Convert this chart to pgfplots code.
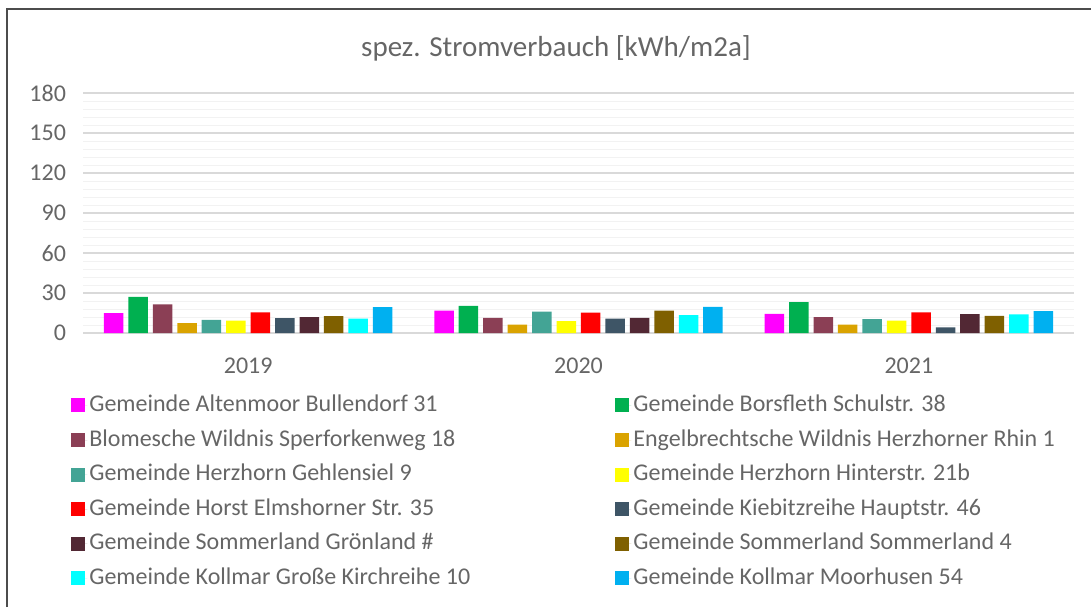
\documentclass[border=0pt]{standalone}
\usepackage{pgfplots}
\pgfplotsset{compat=1.18}
\usepackage{pgfplotstable}
\usepackage{fontspec}
\setmainfont{Carlito}
\definecolor{txt}{HTML}{666666}
\definecolor{c1}{HTML}{FF00FF}
\definecolor{c2}{HTML}{00B050}
\definecolor{c3}{HTML}{8B3F55}
\definecolor{c4}{HTML}{DAA300}
\definecolor{c5}{HTML}{43A495}
\definecolor{c6}{HTML}{FFFF00}
\definecolor{c7}{HTML}{FF0000}
\definecolor{c8}{HTML}{3E5566}
\definecolor{c9}{HTML}{522834}
\definecolor{c10}{HTML}{7F6000}
\definecolor{c11}{HTML}{00FFFF}
\definecolor{c12}{HTML}{00B0F0}
\pgfplotstableread{
x s1 s2 s3 s4 s5 s6 s7 s8 s9 s10 s11 s12
0 15.0 27.1 21.4 7.5 9.9 9.2 15.4 11.2 12.0 12.7 10.7 19.4
1 16.7 20.4 11.4 6.2 16.1 9.0 15.2 10.7 11.4 16.7 13.4 19.6
2 14.4 23.1 12.0 6.2 10.5 9.2 15.4 4.2 14.2 12.9 13.9 16.4
}\datatable
\newcommand{\lw}[1]{\makebox[262pt][l]{#1}}
\begin{document}
\begin{tikzpicture}
\useasboundingbox (0,0) rectangle (545.5pt,303.5pt);
\draw[color=black!70, line width=1pt] (3.5pt,0) -- (3.5pt,299pt) -- (546pt,299pt);
\node[text=txt, font=\fontsize{14.5}{17}\selectfont] at (278pt,279.5pt) {spez. Stromverbauch [kWh/m2a]};
\begin{axis}[
  at={(41.5pt,137pt)}, anchor=south west,
  scale only axis, width=495.5pt, height=120pt,
  ybar=2.475pt, bar width=9.75pt,
  xmin=-0.5, xmax=2.5, ymin=0, ymax=180,
  xtick={0,1,2}, xticklabels={2019,2020,2021},
  ytick={0,30,...,180}, minor y tick num=4,
  ymajorgrids, yminorgrids,
  major grid style={draw=black!15, line width=0.6pt},
  minor grid style={draw=black!5, line width=0.5pt},
  major tick length=0pt, minor tick length=0pt,
  axis line style={draw=none},
  /pgf/number format/assume math mode=true,
  tick label style={text=txt, font=\fontsize{12}{14}\selectfont},
  yticklabel style={xshift=-5pt},
  xticklabel style={yshift=-9pt},
  legend columns=2,
  legend cell align=left,
  legend style={at={(0,0)}, anchor=north west, xshift=-6pt, yshift=-29pt,
    draw=none, fill=none, inner sep=0pt, row sep=3.3pt,
    font=\fontsize{12}{14}\selectfont, text=txt,
    nodes={inner sep=1pt, text height=9pt, text depth=3pt}},
  legend image code/.code={\fill[#1,draw=none] (0pt,-3.5pt) rectangle (7pt,3.5pt); \path (0pt,0pt) -- (8pt,0pt);},
]
\addplot[fill=c1, draw=none] table[x=x,y=s1]{\datatable};
\addplot[fill=c2, draw=none] table[x=x,y=s2]{\datatable};
\addplot[fill=c3, draw=none] table[x=x,y=s3]{\datatable};
\addplot[fill=c4, draw=none] table[x=x,y=s4]{\datatable};
\addplot[fill=c5, draw=none] table[x=x,y=s5]{\datatable};
\addplot[fill=c6, draw=none] table[x=x,y=s6]{\datatable};
\addplot[fill=c7, draw=none] table[x=x,y=s7]{\datatable};
\addplot[fill=c8, draw=none] table[x=x,y=s8]{\datatable};
\addplot[fill=c9, draw=none] table[x=x,y=s9]{\datatable};
\addplot[fill=c10, draw=none] table[x=x,y=s10]{\datatable};
\addplot[fill=c11, draw=none] table[x=x,y=s11]{\datatable};
\addplot[fill=c12, draw=none] table[x=x,y=s12]{\datatable};
\legend{\lw{Gemeinde Altenmoor Bullendorf 31}, Gemeinde Borsfleth Schulstr. 38,
  \lw{Blomesche Wildnis Sperforkenweg 18}, Engelbrechtsche Wildnis Herzhorner Rhin 1,
  \lw{Gemeinde Herzhorn Gehlensiel 9}, Gemeinde Herzhorn Hinterstr. 21b,
  \lw{Gemeinde Horst Elmshorner Str. 35}, Gemeinde Kiebitzreihe Hauptstr. 46,
  \lw{Gemeinde Sommerland Grönland \#}, Gemeinde Sommerland Sommerland 4,
  \lw{Gemeinde Kollmar Große Kirchreihe 10}, Gemeinde Kollmar Moorhusen 54}
\end{axis}
\end{tikzpicture}
\end{document}
